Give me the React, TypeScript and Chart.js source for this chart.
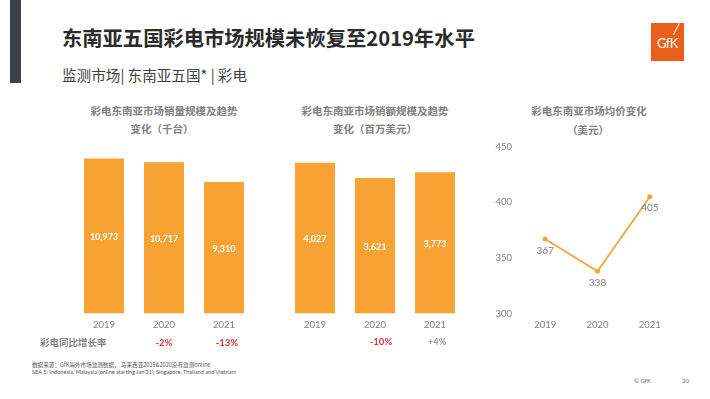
import React, { useEffect, useRef } from "react";
import { Chart, registerables } from "chart.js";

Chart.register(...registerables);

// ---- data ----
const years = ["2019", "2020", "2021"];
const volumeK = [10973, 10717, 9310];
const valueMUSD = [4027, 3621, 3773];
const avgPriceUSD = [367, 338, 405];
const priceTicks = [300, 350, 400, 450];
const volumeGrowth = ["-2%", "-13%"];
const valueGrowth = ["-10%", "+4%"];

const ORANGE = "#F7A233";
const LINE = "#F2A53E";
const GRAY = "#808080";
const RED = "#E0322D";
const FONT = "Lato, 'Noto Sans CJK SC', sans-serif";
const CJK = "'Noto Sans CJK SC', Lato, sans-serif";

function labelPlugin(mode: "bar" | "line", color: string, font: string) {
  return {
    id: "valueLabels",
    afterDatasetsDraw(chart: any) {
      const ctx = chart.ctx;
      const meta = chart.getDatasetMeta(0);
      const data = chart.data.datasets[0].data as number[];
      ctx.save();
      ctx.fillStyle = color;
      ctx.font = font;
      ctx.textAlign = "center";
      ctx.textBaseline = "middle";
      meta.data.forEach((el: any, i: number) => {
        const text = Number(data[i]).toLocaleString("en-US");
        if (mode === "bar") {
          ctx.fillText(text, el.x, (el.y + el.base) / 2 + 1);
        } else {
          ctx.fillText(text, el.x, el.y + 11.5);
        }
      });
      ctx.restore();
    },
  };
}

function barConfig(values: number[], max: number): any {
  return {
    type: "bar",
    data: {
      labels: years,
      datasets: [
        {
          data: values,
          backgroundColor: ORANGE,
          categoryPercentage: 1,
          barPercentage: 0.667,
        },
      ],
    },
    options: {
      animation: false,
      responsive: false,
      maintainAspectRatio: false,
      layout: { padding: 0 },
      plugins: { legend: { display: false }, tooltip: { enabled: false } },
      scales: {
        x: {
          grid: { display: false, drawTicks: false },
          border: { display: false },
          ticks: { color: GRAY, font: { family: FONT, size: 9.5 }, padding: 6 },
        },
        y: { display: false, min: 0, max },
      },
    },
    plugins: [labelPlugin("bar", "#ffffff", `bold 9px ${FONT}`)],
  };
}

function lineConfig(): any {
  return {
    type: "line",
    data: {
      labels: years,
      datasets: [
        {
          data: avgPriceUSD,
          borderColor: LINE,
          backgroundColor: LINE,
          borderWidth: 1.8,
          pointRadius: 2.5,
          pointBackgroundColor: LINE,
          pointBorderWidth: 0,
          tension: 0,
        },
      ],
    },
    options: {
      animation: false,
      responsive: false,
      maintainAspectRatio: false,
      layout: { padding: { top: 8 } },
      plugins: { legend: { display: false }, tooltip: { enabled: false } },
      scales: {
        x: {
          offset: true,
          grid: { display: false, drawTicks: false },
          border: { display: false },
          ticks: { color: GRAY, font: { family: FONT, size: 9.5 }, padding: 6 },
        },
        y: {
          min: priceTicks[0],
          max: priceTicks[priceTicks.length - 1],
          grid: { display: false, drawTicks: false },
          border: { display: false },
          afterBuildTicks: (axis: any) => {
            axis.ticks = priceTicks.map((v) => ({ value: v }));
          },
          afterFit: (axis: any) => {
            axis.width = 30;
          },
          ticks: { color: GRAY, font: { family: FONT, size: 9.5 }, padding: 7 },
        },
      },
    },
    plugins: [labelPlugin("line", "#7a7a7a", `10px ${FONT}`)],
  };
}

function ChartCanvas(props: { cfg: () => any; left: number; top: number; width: number; height: number }) {
  const ref = useRef<HTMLCanvasElement | null>(null);
  useEffect(() => {
    if (!ref.current) return;
    const c = new Chart(ref.current, props.cfg());
    return () => c.destroy();
  }, []);
  return (
    <canvas
      ref={ref}
      width={props.width}
      height={props.height}
      style={{ position: "absolute", left: props.left, top: props.top, width: props.width, height: props.height }}
    />
  );
}

function T(props: {
  x: number;
  y: number;
  children: React.ReactNode;
  size: number;
  color?: string;
  bold?: boolean;
  align?: "left" | "center";
  family?: string;
}) {
  const lh = Math.round(props.size * 1.4);
  const center = props.align === "center";
  return (
    <div
      style={{
        position: "absolute",
        left: center ? props.x - 150 : props.x,
        width: center ? 300 : undefined,
        top: props.y - lh / 2,
        lineHeight: `${lh}px`,
        fontSize: props.size,
        fontWeight: props.bold ? 700 : 400,
        color: props.color || GRAY,
        textAlign: center ? "center" : "left",
        whiteSpace: "nowrap",
        fontFamily: props.family || FONT,
      }}
    >
      {props.children}
    </div>
  );
}

export default function App() {
  return (
    <div
      style={{
        position: "fixed",
        left: 0,
        top: 0,
        width: 710,
        height: 399,
        background: "#ffffff",
        overflow: "hidden",
        fontFamily: FONT,
      }}
    >
      {/* left dark bar */}
      <div style={{ position: "absolute", left: 10, top: 0, width: 11, height: 83, background: "#3D4145" }} />

      <T x={62} y={37} size={20.3} bold color="#2b2b2b" family={CJK}>
        东南亚五国彩电市场规模未恢复至2019年水平
      </T>
      <T x={62} y={75} size={14.6} color="#404040" family={CJK}>
        监测市场| 东南亚五国* | 彩电
      </T>

      {/* GfK logo */}
      <div
        style={{
          position: "absolute",
          left: 651,
          top: 23,
          width: 33,
          height: 38,
          background: "#E8601C",
          color: "#fff",
          fontFamily: FONT,
          fontSize: 13,
          lineHeight: "40px",
          textAlign: "center",
          letterSpacing: -0.5,
        }}
      >
        GfK
      </div>
      <div
        style={{
          position: "absolute",
          left: 679,
          top: 23,
          width: 1.4,
          height: 13,
          background: "#fff",
          transform: "rotate(28deg)",
          transformOrigin: "top left",
        }}
      />

      {/* chart titles */}
      <T x={164} y={110} size={10.5} bold align="center" family={CJK}>彩电东南亚市场销量规模及趋势</T>
      <T x={162} y={128} size={10.5} bold align="center" family={CJK}>变化（千台）</T>
      <T x={375} y={110} size={10.5} bold align="center" family={CJK}>彩电东南亚市场销额规模及趋势</T>
      <T x={375} y={128} size={10.5} bold align="center" family={CJK}>变化（百万美元）</T>
      <T x={589} y={110} size={10.5} bold align="center" family={CJK}>彩电东南亚市场均价变化</T>
      <T x={588} y={129} size={10.5} bold align="center" family={CJK}>（美元）</T>

      <ChartCanvas cfg={() => barConfig(volumeK, 12000)} left={74} top={144} width={180} height={193} />
      <ChartCanvas cfg={() => barConfig(valueMUSD, 4500)} left={285} top={145} width={180} height={192} />
      <ChartCanvas cfg={lineConfig} left={489} top={134} width={191} height={203} />

      {/* growth row */}
      <T x={40} y={342} size={9.5} bold family={CJK}>彩电同比增长率</T>
      <T x={164} y={342} size={9.5} bold color={RED} align="center">{volumeGrowth[0]}</T>
      <T x={227} y={342} size={9.5} bold color={RED} align="center">{volumeGrowth[1]}</T>
      <T x={381} y={341} size={9.5} bold color={RED} align="center">{valueGrowth[0]}</T>
      <T x={437} y={341} size={9.5} color={GRAY} align="center">{valueGrowth[1]}</T>

      {/* source */}
      <T x={32} y={365} size={5.6} color="#555" family={CJK}>数据来源：GfK海外市场监测数据， 马来西亚2019&2020没有监测online</T>
      <T x={32} y={372} size={5.6} color="#555">SEA 5: Indonesia, Malaysia (online starting Jan'21), Singapore, Thailand and Vietnam</T>

      <T x={634} y={381} size={6} color="#666">© GfK</T>
      <T x={682} y={381} size={6} color="#666">20</T>
    </div>
  );
}
